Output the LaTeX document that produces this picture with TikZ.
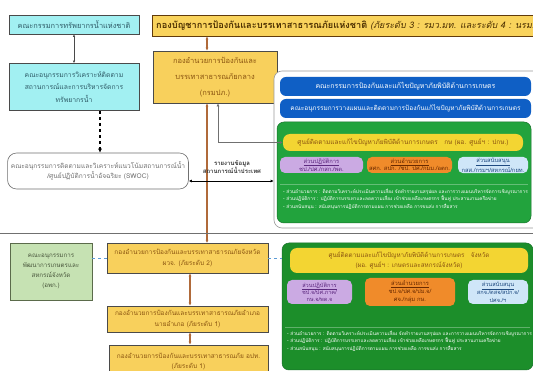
\documentclass[tikz,border=0pt]{standalone}
\usepackage{fontspec}
\setmainfont{Liberation Sans}
\newfontfamily\thai[Script=Thai]{Loma}
\usetikzlibrary{arrows.meta}
\definecolor{cyanfill}{HTML}{A2F0F2}
\definecolor{cyantext}{HTML}{2E5A66}
\definecolor{boxline}{HTML}{4A4A4A}
\definecolor{orfill}{HTML}{F8D05C}
\definecolor{ortext}{HTML}{8A5410}
\definecolor{titlefill}{HTML}{F9D35C}
\definecolor{titletext}{HTML}{4A2E00}
\definecolor{bluefill}{HTML}{0F5FC5}
\definecolor{greenA}{HTML}{22A33D}
\definecolor{greenB}{HTML}{1C8E2A}
\definecolor{yellowin}{HTML}{F3D532}
\definecolor{purplefill}{HTML}{CBAAE3}
\definecolor{purpletext}{HTML}{5E2A80}
\definecolor{orangein}{HTML}{F08B2A}
\definecolor{orangetext}{HTML}{6A2A00}
\definecolor{lbfill}{HTML}{CFE6F8}
\definecolor{lbtext}{HTML}{1F4A80}
\definecolor{lgfill}{HTML}{C6E2B3}
\definecolor{lgline}{HTML}{5B6B4B}
\definecolor{brownln}{HTML}{B06A3A}
\definecolor{grayln}{HTML}{707070}
\definecolor{dashblue}{HTML}{5B9BD5}
\tikzset{
  box/.style={draw=boxline, line width=0.8, inner sep=1, align=center, font=\thai\fontsize{6.8}{9}\selectfont},
  cyanbox/.style={box, fill=cyanfill, text=cyantext},
  orbox/.style={box, fill=orfill, text=ortext},
  bluebox/.style={rounded corners=6, fill=bluefill, text=white, align=center, font=\thai\fontsize{7}{8}\selectfont},
  greenblock/.style={rounded corners=7, draw=greenA!70!black, line width=0.5},
  yellowbox/.style={rounded corners=7, fill=yellowin, text=ortext, align=center, font=\thai\fontsize{6.5}{8}\selectfont},
  subbox/.style={rounded corners=5, align=center, font=\thai\fontsize{5.8}{6.8}\selectfont, inner sep=1},
  purplebox/.style={subbox, fill=purplefill, text=purpletext},
  orangebox/.style={subbox, fill=orangein, text=orangetext},
  lbbox/.style={subbox, fill=lbfill, text=lbtext},
  bullets/.style={anchor=north west, align=left, text=white, font=\thai\fontsize{4.75}{7.6}\selectfont, inner sep=0},
  brownarr/.style={draw=brownln, line width=1.1, {Latex[length=3,width=3]}-{Latex[length=3,width=3]}},
  grayarr/.style={draw=grayln, line width=0.9, {Latex[length=3,width=3]}-{Latex[length=3,width=3]}},
}
\begin{document}
\begin{tikzpicture}[x=1pt,y=-1pt]
\useasboundingbox (0,0) rectangle (533,371);
\fill[white] (0,0) rectangle (533,371);

% ---------- top left ----------
\node[cyanbox, minimum width=130, minimum height=19, font=\thai\fontsize{7.4}{9}\selectfont] (nwr) at (74,24.5) {คณะกรรมการทรัพยากรน้ำแห่งชาติ};
\node[cyanbox, minimum width=130, minimum height=47, font=\thai\fontsize{6.8}{12.5}\selectfont] (sub) at (74,87) {คณะอนุกรรมการวิเคราะห์ติดตาม\\สถานการณ์และการบริหารจัดการ\\ทรัพยากรน้ำ};
\node[draw=grayln, line width=0.6, rounded corners=9, minimum width=180, minimum height=36, align=center, text=grayln, font=\thai\fontsize{6.6}{9.5}\selectfont] (swoc) at (98,171) {คณะอนุกรรมการติดตามและวิเคราะห์แนวโน้มสถานการณ์น้ำ\\/ศูนย์ปฏิบัติการน้ำอัจฉริยะ (SWOC)};

% ---------- title ----------
\node[draw=ortext!70!black, line width=0.8, fill=titlefill, minimum width=390, minimum height=21] (title) at (347,25.5) {};
\node[anchor=west, inner sep=0, text=titletext, font=\thai\fontsize{9.2}{11}\selectfont] (titletxt) at (156,25.5) {\bfseries กองบัญชาการป้องกันและบรรเทาสาธารณภัยแห่งชาติ \mdseries\itshape\fontsize{9}{11}\selectfont (ภัยระดับ 3 : รมว.มท. และระดับ 4 : นรม.)};

\node[orbox, minimum width=124, minimum height=52, font=\thai\fontsize{7.5}{16}\selectfont] (hq) at (215,77) {กองอำนวยการป้องกันและ\\บรรเทาสาธารณภัยกลาง\\(กรมปภ.)};

% ---------- right upper group ----------
\node[draw=grayln!70, line width=0.6, rounded corners=8, fill=white, minimum width=268, minimum height=157] (outer) at (408,149.5) {};
\node[bluebox, minimum width=251, minimum height=19] (blue1) at (405.5,86.5) {คณะกรรมการป้องกันและแก้ไขปัญหาภัยพิบัติด้านการเกษตร};
\node[bluebox, minimum width=251, minimum height=19, font=\thai\fontsize{6.5}{7.5}\selectfont] (blue2) at (405.5,108.5) {คณะอนุกรรมการวางแผนและติดตามการป้องกันแก้ไขปัญหาภัยพิบัติด้านการเกษตร};
\node[greenblock, fill=greenA, minimum width=254, minimum height=101] (green1) at (404,172.5) {};
\draw[greenA!70!white, line width=0.4] (280,184) -- (528,184);
\node[yellowbox, minimum width=240, minimum height=17] (yel1) at (403,142.5) {ศูนย์ติดตามและแก้ไขปัญหาภัยพิบัติด้านการเกษตร\quad กษ (ผอ. ศูนย์ฯ : ปกษ.)};
\node[purplebox, minimum width=83, minimum height=16] (pur1) at (321.5,165) {\underline{ส่วนปฏิบัติการ}\\ชป./ปศ./กสก./พด.};
\node[orangebox, minimum width=85, minimum height=16] (ora1) at (409.5,165) {\underline{ส่วนอำนวยการ}\\สศก. สปก. /ชป. ปศ./กมม./อตก.};
\node[lbbox, minimum width=70, minimum height=16] (lb1) at (493,165) {\underline{ส่วนสนับสนุน}\\กสส./กรมฯ/สหกรณ์/กยท.};
\node[bullets] (bul1) at (283,188) {- ส่วนอำนวยการ : ติดตามวิเคราะห์ประเมินความเสี่ยง จัดทำรายงานสรุปผล และการวางแผนบริหารจัดการเชิงบูรณาการ\\- ส่วนปฏิบัติการ : ปฏิบัติการบรรเทาและลดความเสี่ยง เข้าช่วยเหลือเกษตรกร ฟื้นฟู ประสานงานเครือข่าย\\- ส่วนสนับสนุน : สนับสนุนการปฏิบัติการตามแผน การช่วยเหลือ การขนส่ง การสื่อสาร};

% ---------- connectors upper ----------
\draw[draw=boxline, line width=0.8, {Latex[length=2.5,width=2.5]}-{Latex[length=2.5,width=2.5]}] (nwr.south) -- (sub.north);
\draw[black, line width=1.4, dashed, -{Latex[length=4,width=4]}] ([xshift=26]sub.south) -- ([xshift=2]swoc.north);
\draw[brownarr] ([xshift=-8]hq.north) -- ([xshift=-8]hq.north |- title.south);
\coordinate (j1top) at (207,243);
\draw[brownarr] ([xshift=-8]hq.south) -- (j1top);
\draw[grayarr] ([xshift=3]hq.south) |- (yel1.west);
\draw[black, line width=0.7, {Latex[length=3,width=3]}-{Latex[length=3,width=3]}] ([yshift=-10]swoc.east) -- ([yshift=-10]swoc.east -| outer.west);
\node[align=center, text=black!80, font=\thai\fontsize{6}{7}\selectfont\bfseries] (lbl) at (232,167) {รายงานข้อมูล\\สถานการณ์น้ำประเทศ};

% ---------- separator ----------
\draw[grayln, line width=0.6] (0,233) -- (533,233);

% ---------- bottom ----------
\node[box, fill=lgfill, draw=lgline, text=lgline!80!black, minimum width=82, minimum height=57, font=\thai\fontsize{6.2}{10}\selectfont] (apk) at (51,271.5) {คณะอนุกรรมการ\\พัฒนาการเกษตรและ\\สหกรณ์จังหวัด\\(อพก.)};
\node[orbox, minimum width=161, minimum height=30, font=\thai\fontsize{6.5}{10.5}\selectfont] (j1) at (187.5,258) {กองอำนวยการป้องกันและบรรเทาสาธารณภัยจังหวัด\\ผวจ. (ภัยระดับ 2)};
\node[orbox, minimum width=161, minimum height=26, font=\thai\fontsize{6.5}{10.5}\selectfont] (j2) at (187.5,319) {กองอำนวยการป้องกันและบรรเทาสาธารณภัยอำเภอ\\นายอำเภอ (ภัยระดับ 1)};
\node[orbox, minimum width=159, minimum height=33, font=\thai\fontsize{6.5}{10.5}\selectfont] (j3) at (188.5,361.5) {กองอำนวยการป้องกันและบรรเทาสาธารณภัย อปท.\\(ภัยระดับ 1)};

\node[greenblock, fill=greenB, minimum width=251, minimum height=127] (green2) at (407.5,306.5) {};
\draw[greenB!70!white, line width=0.4] (285,327) -- (530,327);
\node[yellowbox, minimum width=238, minimum height=25, font=\thai\fontsize{6.3}{10}\selectfont] (yel2) at (409,260.5) {ศูนย์ติดตามและแก้ไขปัญหาภัยพิบัติด้านการเกษตร\quad จังหวัด\\(ผอ. ศูนย์ฯ : เกษตรและสหกรณ์จังหวัด)};
\node[purplebox, minimum width=65, minimum height=24, font=\thai\fontsize{5.6}{7.2}\selectfont] (pur2) at (319.5,292) {\underline{ส่วนปฏิบัติการ}\\ชป.จ/ปศ.ภาค/\\กษ.จ/พด.จ};
\node[orangebox, minimum width=90, minimum height=28, font=\thai\fontsize{5.8}{8}\selectfont] (ora2) at (410,292) {\underline{ส่วนอำนวยการ}\\ชป.จ/ปศ.จ/ปม.จ/\\ศจ./กลุ่ม กษ.};
\node[lbbox, minimum width=60, minimum height=24, font=\thai\fontsize{5.6}{7.2}\selectfont] (lb2) at (498,292) {\underline{ส่วนสนับสนุน}\\สกจ./ตสจ/สปก.จ/\\ปศจ./ฯ};
\node[bullets] (bul2) at (287,330) {- ส่วนอำนวยการ : ติดตามวิเคราะห์ประเมินความเสี่ยง จัดทำรายงานสรุปผล และการวางแผนบริหารจัดการเชิงบูรณาการ\\- ส่วนปฏิบัติการ : ปฏิบัติการบรรเทาและลดความเสี่ยง เข้าช่วยเหลือเกษตรกร ฟื้นฟู ประสานงานเครือข่าย\\- ส่วนสนับสนุน : สนับสนุนการปฏิบัติการตามแผน การช่วยเหลือ การขนส่ง การสื่อสาร};

% ---------- connectors bottom ----------
\draw[brownarr] ([xshift=2.5]j1.south) -- ([xshift=2.5]j1.south |- j2.north);
\draw[brownarr] ([xshift=2.5]j2.south) -- ([xshift=2.5]j2.south |- j3.north);
\draw[dashblue, line width=0.9, dashed] (j1.west) -- (j1.west -| apk.east);
\draw[dashblue, line width=0.9, dashed] (j1.east) -- (j1.east -| green2.west);
\end{tikzpicture}
\end{document}
